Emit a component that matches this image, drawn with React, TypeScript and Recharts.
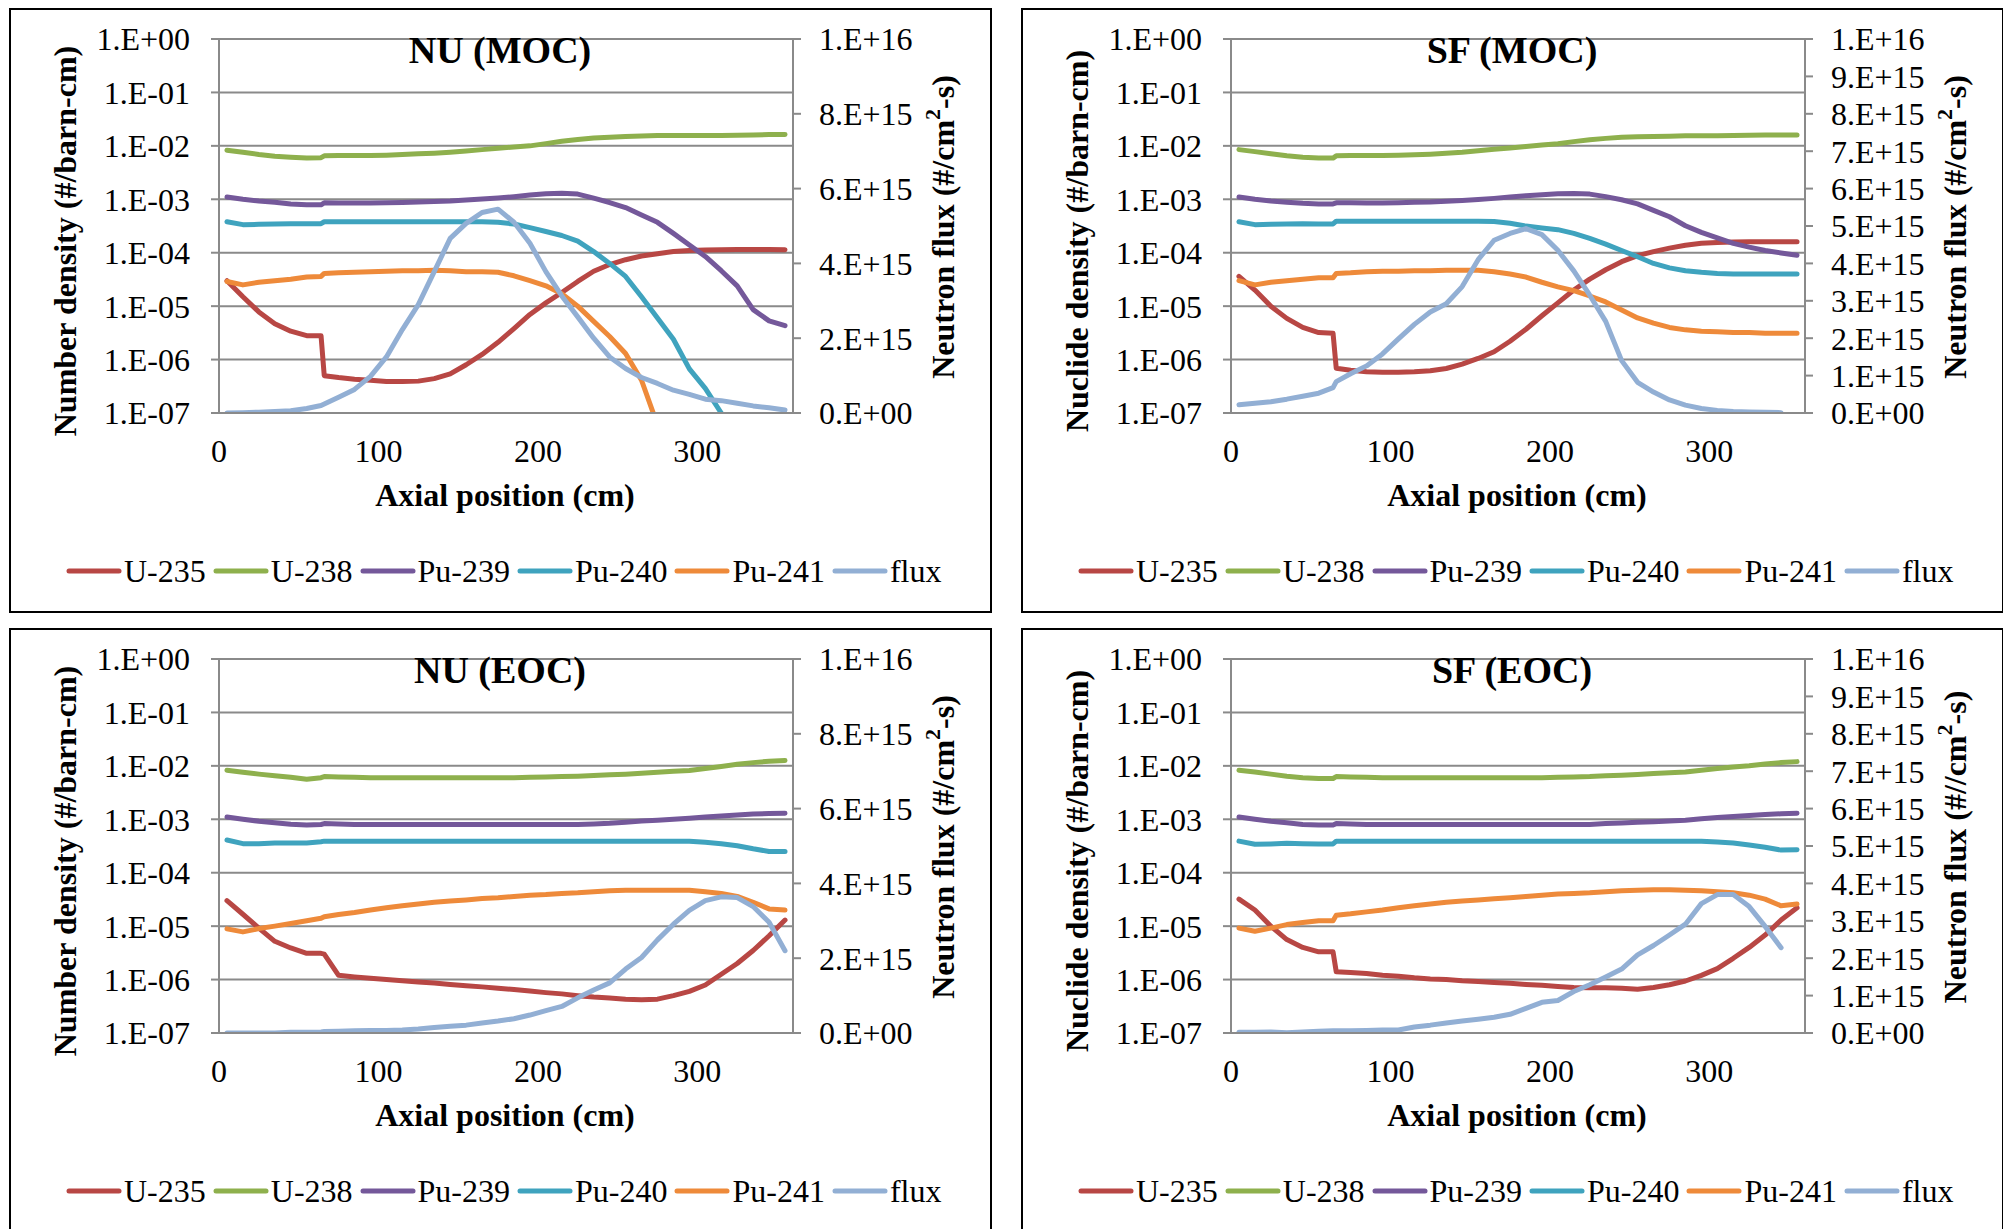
import React from 'react';
import { LineChart, Line, XAxis, YAxis, CartesianGrid, Legend } from 'recharts';

// Axial positions (cm)
const X_POS = [5, 15, 25, 35, 45, 55, 64, 66, 75, 85, 95, 105, 115, 125, 135, 145, 155, 165, 175, 185, 195, 205, 215, 225, 235, 245, 255, 265, 275, 285, 295, 305, 315, 325, 335, 345, 355];

const SERIES_NAMES = ['U-235', 'U-238', 'Pu-239', 'Pu-240', 'Pu-241', 'flux'];
const SERIES_KEYS = ['u235', 'u238', 'pu239', 'pu240', 'pu241', 'flux'];
const SERIES_COLORS = ['#B84744', '#8EB04D', '#74589A', '#3FA3BE', '#EE8A3A', '#92AFD4'];

const X_TICKS = [0, 100, 200, 300];
const DENSITY_TICKS = [1e-7, 1e-6, 1e-5, 1e-4, 1e-3, 1e-2, 1e-1, 1];
const FLUX_TICKS_NU = [0, 2e15, 4e15, 6e15, 8e15, 1e16];
const FLUX_TICKS_SF = [0, 1e15, 2e15, 3e15, 4e15, 5e15, 6e15, 7e15, 8e15, 9e15, 1e16];

// ---------- NU (MOC) ----------
const NU_MOC_U235 = [3.0e-5, 1.5e-5, 7.8e-6, 4.7e-6, 3.4e-6, 2.8e-6, 2.8e-6, 5.0e-7, 4.6e-7, 4.3e-7, 4.1e-7, 3.9e-7, 3.9e-7, 3.95e-7, 4.4e-7, 5.4e-7, 8.0e-7, 1.25e-6, 2.1e-6, 3.8e-6, 7.0e-6, 1.15e-5, 1.8e-5, 2.9e-5, 4.5e-5, 6.0e-5, 7.4e-5, 8.7e-5, 9.6e-5, 1.05e-4, 1.1e-4, 1.12e-4, 1.14e-4, 1.15e-4, 1.15e-4, 1.15e-4, 1.14e-4];
const NU_MOC_U238 = [8.3e-3, 7.6e-3, 6.9e-3, 6.4e-3, 6.1e-3, 5.9e-3, 6.0e-3, 6.5e-3, 6.6e-3, 6.6e-3, 6.6e-3, 6.7e-3, 6.9e-3, 7.1e-3, 7.3e-3, 7.6e-3, 8.0e-3, 8.5e-3, 9.0e-3, 9.5e-3, 1.0e-2, 1.1e-2, 1.22e-2, 1.32e-2, 1.4e-2, 1.45e-2, 1.5e-2, 1.53e-2, 1.56e-2, 1.57e-2, 1.57e-2, 1.57e-2, 1.57e-2, 1.58e-2, 1.6e-2, 1.63e-2, 1.64e-2];
const NU_MOC_PU239 = [1.1e-3, 1.0e-3, 9.3e-4, 8.8e-4, 8.2e-4, 7.9e-4, 7.9e-4, 8.6e-4, 8.5e-4, 8.5e-4, 8.5e-4, 8.6e-4, 8.7e-4, 8.9e-4, 9.1e-4, 9.3e-4, 9.7e-4, 1.01e-3, 1.06e-3, 1.12e-3, 1.2e-3, 1.27e-3, 1.3e-3, 1.25e-3, 1.05e-3, 8.7e-4, 7.0e-4, 5.1e-4, 3.7e-4, 2.3e-4, 1.4e-4, 8.5e-5, 4.6e-5, 2.4e-5, 8.6e-6, 5.3e-6, 4.3e-6];
const NU_MOC_PU240 = [3.8e-4, 3.35e-4, 3.4e-4, 3.45e-4, 3.5e-4, 3.5e-4, 3.5e-4, 3.8e-4, 3.8e-4, 3.8e-4, 3.8e-4, 3.8e-4, 3.8e-4, 3.8e-4, 3.8e-4, 3.8e-4, 3.8e-4, 3.8e-4, 3.7e-4, 3.45e-4, 2.95e-4, 2.5e-4, 2.1e-4, 1.65e-4, 1.05e-4, 6.3e-5, 3.6e-5, 1.5e-5, 6.0e-6, 2.4e-6, 6.7e-7, 2.9e-7, 1.0e-7, 3.0e-8, null, null, null];
const NU_MOC_PU241 = [2.9e-5, 2.5e-5, 2.8e-5, 3.0e-5, 3.2e-5, 3.5e-5, 3.6e-5, 4.1e-5, 4.2e-5, 4.3e-5, 4.4e-5, 4.5e-5, 4.6e-5, 4.6e-5, 4.7e-5, 4.6e-5, 4.4e-5, 4.4e-5, 4.3e-5, 3.7e-5, 3.0e-5, 2.4e-5, 1.7e-5, 1.0e-5, 5.2e-6, 2.7e-6, 1.3e-6, 4.1e-7, 6.0e-8, null, null, null, null, null, null, null, null];
const NU_MOC_FLUX = [0, 0.01e15, 0.02e15, 0.04e15, 0.06e15, 0.12e15, 0.2e15, 0.24e15, 0.42e15, 0.63e15, 0.98e15, 1.5e15, 2.23e15, 2.9e15, 3.78e15, 4.67e15, 5.07e15, 5.36e15, 5.45e15, 5.1e15, 4.54e15, 3.78e15, 3.13e15, 2.57e15, 2.0e15, 1.5e15, 1.19e15, 0.95e15, 0.79e15, 0.61e15, 0.5e15, 0.37e15, 0.33e15, 0.26e15, 0.19e15, 0.14e15, 0.08e15];

// ---------- SF (MOC) ----------
const SF_MOC_U235 = [3.6e-5, 2.0e-5, 1.0e-5, 5.9e-6, 4.0e-6, 3.2e-6, 3.1e-6, 6.9e-7, 6.3e-7, 5.9e-7, 5.8e-7, 5.8e-7, 5.9e-7, 6.2e-7, 6.8e-7, 8.2e-7, 1.05e-6, 1.4e-6, 2.2e-6, 3.7e-6, 6.6e-6, 1.15e-5, 2.0e-5, 3.2e-5, 4.8e-5, 6.8e-5, 8.8e-5, 1.05e-4, 1.22e-4, 1.38e-4, 1.5e-4, 1.56e-4, 1.58e-4, 1.6e-4, 1.6e-4, 1.6e-4, 1.6e-4];
const SF_MOC_U238 = [8.5e-3, 7.8e-3, 7.1e-3, 6.5e-3, 6.1e-3, 5.9e-3, 5.9e-3, 6.5e-3, 6.6e-3, 6.6e-3, 6.6e-3, 6.7e-3, 6.8e-3, 7.0e-3, 7.3e-3, 7.6e-3, 8.1e-3, 8.6e-3, 9.1e-3, 9.7e-3, 1.04e-2, 1.1e-2, 1.2e-2, 1.3e-2, 1.38e-2, 1.45e-2, 1.48e-2, 1.5e-2, 1.52e-2, 1.54e-2, 1.55e-2, 1.55e-2, 1.56e-2, 1.58e-2, 1.6e-2, 1.6e-2, 1.6e-2];
const SF_MOC_PU239 = [1.1e-3, 1.0e-3, 9.3e-4, 8.8e-4, 8.4e-4, 8.2e-4, 8.2e-4, 8.6e-4, 8.6e-4, 8.5e-4, 8.5e-4, 8.6e-4, 8.8e-4, 8.9e-4, 9.2e-4, 9.5e-4, 9.9e-4, 1.04e-3, 1.1e-3, 1.17e-3, 1.22e-3, 1.27e-3, 1.28e-3, 1.25e-3, 1.12e-3, 9.8e-4, 8.2e-4, 6.2e-4, 4.7e-4, 3.2e-4, 2.4e-4, 1.9e-4, 1.5e-4, 1.27e-4, 1.1e-4, 9.9e-5, 9.0e-5];
const SF_MOC_PU240 = [3.8e-4, 3.35e-4, 3.4e-4, 3.45e-4, 3.5e-4, 3.45e-4, 3.45e-4, 3.9e-4, 3.9e-4, 3.9e-4, 3.9e-4, 3.9e-4, 3.9e-4, 3.9e-4, 3.9e-4, 3.9e-4, 3.9e-4, 3.85e-4, 3.55e-4, 3.15e-4, 2.9e-4, 2.7e-4, 2.3e-4, 1.85e-4, 1.45e-4, 1.1e-4, 8.4e-5, 6.3e-5, 5.2e-5, 4.6e-5, 4.3e-5, 4.1e-5, 4.0e-5, 4.0e-5, 4.0e-5, 4.0e-5, 4.0e-5];
const SF_MOC_PU241 = [3.0e-5, 2.5e-5, 2.8e-5, 3.0e-5, 3.2e-5, 3.4e-5, 3.4e-5, 4.1e-5, 4.2e-5, 4.4e-5, 4.5e-5, 4.5e-5, 4.6e-5, 4.6e-5, 4.7e-5, 4.7e-5, 4.7e-5, 4.4e-5, 4.0e-5, 3.5e-5, 2.8e-5, 2.3e-5, 1.95e-5, 1.55e-5, 1.2e-5, 8.5e-6, 6.0e-6, 4.8e-6, 4.0e-6, 3.6e-6, 3.4e-6, 3.3e-6, 3.2e-6, 3.2e-6, 3.1e-6, 3.1e-6, 3.1e-6];
const SF_MOC_FLUX = [0.22e15, 0.26e15, 0.3e15, 0.37e15, 0.45e15, 0.53e15, 0.68e15, 0.84e15, 1.05e15, 1.26e15, 1.58e15, 1.98e15, 2.37e15, 2.7e15, 2.92e15, 3.38e15, 4.1e15, 4.62e15, 4.8e15, 4.93e15, 4.77e15, 4.35e15, 3.8e15, 3.15e15, 2.45e15, 1.4e15, 0.82e15, 0.56e15, 0.35e15, 0.21e15, 0.12e15, 0.07e15, 0.04e15, 0.03e15, 0.02e15, 0.01e15, null];

// ---------- NU (EOC) ----------
const NU_EOC_U235 = [3.0e-5, 1.67e-5, 9.2e-6, 5.2e-6, 3.9e-6, 3.1e-6, 3.1e-6, 3.0e-6, 1.2e-6, 1.12e-6, 1.06e-6, 1.0e-6, 9.5e-7, 9.0e-7, 8.6e-7, 8.1e-7, 7.7e-7, 7.3e-7, 6.9e-7, 6.5e-7, 6.1e-7, 5.7e-7, 5.4e-7, 5.0e-7, 4.7e-7, 4.5e-7, 4.3e-7, 4.2e-7, 4.3e-7, 5.0e-7, 6.0e-7, 7.9e-7, 1.26e-6, 2.0e-6, 3.5e-6, 6.6e-6, 1.3e-5];
const NU_EOC_U238 = [8.3e-3, 7.6e-3, 7.0e-3, 6.5e-3, 6.1e-3, 5.6e-3, 6.0e-3, 6.3e-3, 6.2e-3, 6.1e-3, 6.0e-3, 6.0e-3, 6.0e-3, 6.0e-3, 6.0e-3, 6.0e-3, 6.0e-3, 6.0e-3, 6.0e-3, 6.0e-3, 6.1e-3, 6.2e-3, 6.3e-3, 6.4e-3, 6.6e-3, 6.8e-3, 7.0e-3, 7.3e-3, 7.6e-3, 7.9e-3, 8.2e-3, 8.9e-3, 9.7e-3, 1.07e-2, 1.15e-2, 1.22e-2, 1.26e-2];
const NU_EOC_PU239 = [1.1e-3, 1.0e-3, 9.2e-4, 8.6e-4, 8.1e-4, 7.8e-4, 8.0e-4, 8.3e-4, 8.2e-4, 8.0e-4, 8.0e-4, 8.0e-4, 8.0e-4, 8.0e-4, 8.0e-4, 8.0e-4, 8.0e-4, 8.0e-4, 8.0e-4, 8.0e-4, 8.0e-4, 8.0e-4, 8.0e-4, 8.0e-4, 8.2e-4, 8.4e-4, 8.8e-4, 9.3e-4, 9.6e-4, 1.0e-3, 1.05e-3, 1.1e-3, 1.15e-3, 1.2e-3, 1.25e-3, 1.28e-3, 1.3e-3];
const NU_EOC_PU240 = [4.1e-4, 3.5e-4, 3.5e-4, 3.6e-4, 3.6e-4, 3.6e-4, 3.8e-4, 3.9e-4, 3.9e-4, 3.9e-4, 3.9e-4, 3.9e-4, 3.9e-4, 3.9e-4, 3.9e-4, 3.9e-4, 3.9e-4, 3.9e-4, 3.9e-4, 3.9e-4, 3.9e-4, 3.9e-4, 3.9e-4, 3.9e-4, 3.9e-4, 3.9e-4, 3.9e-4, 3.9e-4, 3.9e-4, 3.9e-4, 3.9e-4, 3.7e-4, 3.5e-4, 3.2e-4, 2.8e-4, 2.5e-4, 2.5e-4];
const NU_EOC_PU241 = [8.9e-6, 7.8e-6, 9.0e-6, 1.0e-5, 1.12e-5, 1.26e-5, 1.4e-5, 1.5e-5, 1.65e-5, 1.8e-5, 2.0e-5, 2.2e-5, 2.4e-5, 2.6e-5, 2.8e-5, 2.95e-5, 3.1e-5, 3.3e-5, 3.4e-5, 3.6e-5, 3.8e-5, 3.9e-5, 4.1e-5, 4.2e-5, 4.4e-5, 4.6e-5, 4.7e-5, 4.7e-5, 4.7e-5, 4.7e-5, 4.7e-5, 4.4e-5, 4.1e-5, 3.6e-5, 2.8e-5, 2.1e-5, 2.0e-5];
const NU_EOC_FLUX = [0, 0, 0, 0, 0.02e15, 0.02e15, 0.03e15, 0.04e15, 0.05e15, 0.06e15, 0.07e15, 0.07e15, 0.08e15, 0.11e15, 0.15e15, 0.18e15, 0.21e15, 0.27e15, 0.32e15, 0.38e15, 0.48e15, 0.6e15, 0.71e15, 0.94e15, 1.15e15, 1.34e15, 1.71e15, 2.02e15, 2.49e15, 2.91e15, 3.28e15, 3.54e15, 3.64e15, 3.62e15, 3.38e15, 2.96e15, 2.2e15];

// ---------- SF (EOC) ----------
const SF_EOC_U235 = [3.2e-5, 2.0e-5, 1.0e-5, 5.6e-6, 4.0e-6, 3.3e-6, 3.3e-6, 1.4e-6, 1.35e-6, 1.3e-6, 1.2e-6, 1.15e-6, 1.08e-6, 1.03e-6, 1.0e-6, 9.5e-7, 9.2e-7, 8.8e-7, 8.5e-7, 8.1e-7, 7.8e-7, 7.4e-7, 7.1e-7, 7.0e-7, 7.0e-7, 6.9e-7, 6.6e-7, 7.1e-7, 8.0e-7, 9.4e-7, 1.2e-6, 1.6e-6, 2.5e-6, 4.0e-6, 6.8e-6, 1.3e-5, 2.2e-5];
const SF_EOC_U238 = [8.3e-3, 7.7e-3, 7.0e-3, 6.4e-3, 6.0e-3, 5.8e-3, 5.8e-3, 6.3e-3, 6.2e-3, 6.1e-3, 6.0e-3, 6.0e-3, 6.0e-3, 6.0e-3, 6.0e-3, 6.0e-3, 6.0e-3, 6.0e-3, 6.0e-3, 6.0e-3, 6.0e-3, 6.1e-3, 6.2e-3, 6.3e-3, 6.5e-3, 6.7e-3, 6.9e-3, 7.2e-3, 7.4e-3, 7.7e-3, 8.3e-3, 8.9e-3, 9.5e-3, 1.0e-2, 1.08e-2, 1.15e-2, 1.2e-2];
const SF_EOC_PU239 = [1.1e-3, 1.0e-3, 9.2e-4, 8.6e-4, 8.0e-4, 7.8e-4, 7.8e-4, 8.3e-4, 8.2e-4, 8.0e-4, 8.0e-4, 8.0e-4, 8.0e-4, 8.0e-4, 8.0e-4, 8.0e-4, 8.0e-4, 8.0e-4, 8.0e-4, 8.0e-4, 8.0e-4, 8.0e-4, 8.0e-4, 8.0e-4, 8.3e-4, 8.5e-4, 8.8e-4, 9.0e-4, 9.3e-4, 9.6e-4, 1.02e-3, 1.08e-3, 1.13e-3, 1.18e-3, 1.23e-3, 1.27e-3, 1.3e-3];
const SF_EOC_PU240 = [3.9e-4, 3.4e-4, 3.45e-4, 3.55e-4, 3.5e-4, 3.45e-4, 3.45e-4, 3.9e-4, 3.9e-4, 3.9e-4, 3.9e-4, 3.9e-4, 3.9e-4, 3.9e-4, 3.9e-4, 3.9e-4, 3.9e-4, 3.9e-4, 3.9e-4, 3.9e-4, 3.9e-4, 3.9e-4, 3.9e-4, 3.9e-4, 3.9e-4, 3.9e-4, 3.9e-4, 3.9e-4, 3.9e-4, 3.9e-4, 3.9e-4, 3.75e-4, 3.6e-4, 3.3e-4, 3.0e-4, 2.65e-4, 2.7e-4];
const SF_EOC_PU241 = [9.2e-6, 8.0e-6, 9.2e-6, 1.07e-5, 1.17e-5, 1.26e-5, 1.26e-5, 1.6e-5, 1.7e-5, 1.85e-5, 2.0e-5, 2.2e-5, 2.4e-5, 2.6e-5, 2.8e-5, 2.95e-5, 3.1e-5, 3.25e-5, 3.4e-5, 3.6e-5, 3.8e-5, 4.0e-5, 4.1e-5, 4.2e-5, 4.4e-5, 4.6e-5, 4.7e-5, 4.8e-5, 4.8e-5, 4.7e-5, 4.6e-5, 4.4e-5, 4.2e-5, 3.8e-5, 3.2e-5, 2.4e-5, 2.6e-5];
const SF_EOC_FLUX = [0.02e15, 0.02e15, 0.03e15, 0.01e15, 0.03e15, 0.05e15, 0.06e15, 0.06e15, 0.06e15, 0.07e15, 0.08e15, 0.08e15, 0.16e15, 0.21e15, 0.27e15, 0.32e15, 0.37e15, 0.42e15, 0.5e15, 0.66e15, 0.82e15, 0.87e15, 1.11e15, 1.29e15, 1.5e15, 1.71e15, 2.09e15, 2.34e15, 2.62e15, 2.91e15, 3.46e15, 3.7e15, 3.7e15, 3.38e15, 2.85e15, 2.28e15, null];

const FONT = "'Liberation Serif', 'Times New Roman', serif";
const GRID = '#8a8a8a';

function fmtExp(v: number): string {
  if (v === 0) return '0.E+00';
  const e = Math.floor(Math.log10(v) + 1e-9);
  const m = Math.round(v / Math.pow(10, e));
  const s = e < 0 ? '-' : '+';
  return `${m}.E${s}${String(Math.abs(e)).padStart(2, '0')}`;
}

type PanelCfg = {
  left: number;
  top: number;
  title: string;
  leftLabel: string;
  rightPrefix: string;
  fluxTicks: number[];
  series: (number | null)[][];
};

const PANELS: PanelCfg[] = [
  { left: 9, top: 8, title: 'NU (MOC)', leftLabel: 'Number density (#/barn-cm)', rightPrefix: 'Neutron flux (#/cm', fluxTicks: FLUX_TICKS_NU, series: [NU_MOC_U235, NU_MOC_U238, NU_MOC_PU239, NU_MOC_PU240, NU_MOC_PU241, NU_MOC_FLUX] },
  { left: 1021, top: 8, title: 'SF (MOC)', leftLabel: 'Nuclide density (#/barn-cm)', rightPrefix: 'Neutron flux (#/cm', fluxTicks: FLUX_TICKS_SF, series: [SF_MOC_U235, SF_MOC_U238, SF_MOC_PU239, SF_MOC_PU240, SF_MOC_PU241, SF_MOC_FLUX] },
  { left: 9, top: 628, title: 'NU (EOC)', leftLabel: 'Number density (#/barn-cm)', rightPrefix: 'Neutron flux (#/cm', fluxTicks: FLUX_TICKS_NU, series: [NU_EOC_U235, NU_EOC_U238, NU_EOC_PU239, NU_EOC_PU240, NU_EOC_PU241, NU_EOC_FLUX] },
  { left: 1021, top: 628, title: 'SF (EOC)', leftLabel: 'Nuclide density (#/barn-cm)', rightPrefix: 'Neutron flux (#//cm', fluxTicks: FLUX_TICKS_SF, series: [SF_EOC_U235, SF_EOC_U238, SF_EOC_PU239, SF_EOC_PU240, SF_EOC_PU241, SF_EOC_FLUX] },
];

const CHART_W = 979;
const CHART_H = 601;

const tickStyle = { fill: '#000', fontSize: 32, fontFamily: FONT };
const gridLine = { stroke: GRID, strokeWidth: 2 };

function LegendRow() {
  return (
    <div style={{ display: 'flex', alignItems: 'center', paddingLeft: 55, height: 40, fontFamily: FONT, fontSize: 32, color: '#000', lineHeight: '40px', whiteSpace: 'nowrap' }}>
      {SERIES_NAMES.map((n, i) => (
        <div key={n} style={{ display: 'flex', alignItems: 'center', marginRight: 7 }}>
          <svg width={56} height={10}>
            <line x1={3} y1={5} x2={53} y2={5} stroke={SERIES_COLORS[i]} strokeWidth={5} strokeLinecap="round" />
          </svg>
          <span style={{ marginLeft: 2 }}>{n}</span>
        </div>
      ))}
    </div>
  );
}

function Panel({ cfg }: { cfg: PanelCfg }) {
  const rows = X_POS.map((x, i) => {
    const r: Record<string, number | null> = { x };
    SERIES_KEYS.forEach((k, j) => {
      r[k] = cfg.series[j][i];
    });
    return r;
  });

  const xTitleContent = () => (
    <text x={494} y={496} textAnchor="middle" fontFamily={FONT} fontWeight="bold" fontSize={32} fill="#000">Axial position (cm)</text>
  );
  const leftTitleContent = () => (
    <g>
      <text x={54} y={231} transform="rotate(-90 54 231)" textAnchor="middle" dominantBaseline="central" fontFamily={FONT} fontWeight="bold" fontSize={32} fill="#000">{cfg.leftLabel}</text>
      <text x={489} y={53} textAnchor="middle" fontFamily={FONT} fontWeight="bold" fontSize={38} fill="#000">{cfg.title}</text>
    </g>
  );
  const rightTitleContent = () => (
    <text x={932} y={217} transform="rotate(-90 932 217)" textAnchor="middle" dominantBaseline="central" fontFamily={FONT} fontWeight="bold" fontSize={32} fill="#000">
      {cfg.rightPrefix}
      <tspan dy={-11} fontSize={22}>2</tspan>
      <tspan dy={11}>-s)</tspan>
    </text>
  );

  return (
    <div style={{ position: 'absolute', left: cfg.left, top: cfg.top, width: 983, height: 605, border: '2px solid #000', boxSizing: 'border-box', background: '#fff' }}>
      <LineChart width={CHART_W} height={CHART_H} data={rows} margin={{ top: 28, right: 97, bottom: 138, left: 108 }}>
        <CartesianGrid xAxisId="bottom" yAxisId="left" vertical={false} stroke={GRID} strokeWidth={2} />
        <XAxis
          xAxisId="bottom"
          dataKey="x"
          type="number"
          domain={[0, 360]}
          ticks={X_TICKS}
          interval={0}
          tickLine={false}
          tickSize={0}
          tickMargin={26}
          axisLine={gridLine}
          tick={tickStyle}
          height={60}
          label={{ content: xTitleContent }}
        />
        <XAxis
          xAxisId="top"
          orientation="top"
          dataKey="x"
          type="number"
          domain={[0, 360]}
          ticks={X_TICKS}
          interval={0}
          tick={false}
          tickLine={gridLine}
          tickSize={6}
          axisLine={false}
          height={1}
        />
        <YAxis
          yAxisId="left"
          scale="log"
          type="number"
          domain={[1e-7, 1]}
          ticks={DENSITY_TICKS}
          interval={0}
          allowDataOverflow
          width={100}
          tickFormatter={fmtExp}
          tickSize={8}
          tickMargin={21}
          tickLine={gridLine}
          axisLine={gridLine}
          tick={tickStyle}
          label={{ content: leftTitleContent }}
        />
        <YAxis
          yAxisId="right"
          orientation="right"
          type="number"
          domain={[0, 1e16]}
          ticks={cfg.fluxTicks}
          interval={0}
          allowDataOverflow
          width={100}
          tickFormatter={fmtExp}
          tickSize={8}
          tickMargin={18}
          tickLine={gridLine}
          axisLine={gridLine}
          tick={tickStyle}
          label={{ content: rightTitleContent }}
        />
        {SERIES_KEYS.map((k, i) => (
          <Line
            key={k}
            xAxisId="bottom"
            yAxisId={k === 'flux' ? 'right' : 'left'}
            type="linear"
            dataKey={k}
            name={SERIES_NAMES[i]}
            stroke={SERIES_COLORS[i]}
            strokeWidth={5}
            strokeLinejoin="round"
            strokeLinecap="round"
            dot={false}
            activeDot={false}
            isAnimationActive={false}
          />
        ))}
        <Legend
          layout="vertical"
          align="center"
          verticalAlign="middle"
          wrapperStyle={{ left: 0, top: 541, width: CHART_W, height: 40 }}
          content={() => <LegendRow />}
        />
      </LineChart>
    </div>
  );
}

export default function App() {
  return (
    <div style={{ position: 'absolute', left: 0, top: 0, width: 2003, height: 1229, overflow: 'hidden', background: '#fff' }}>
      {PANELS.map((p) => (
        <Panel key={p.title} cfg={p} />
      ))}
    </div>
  );
}
